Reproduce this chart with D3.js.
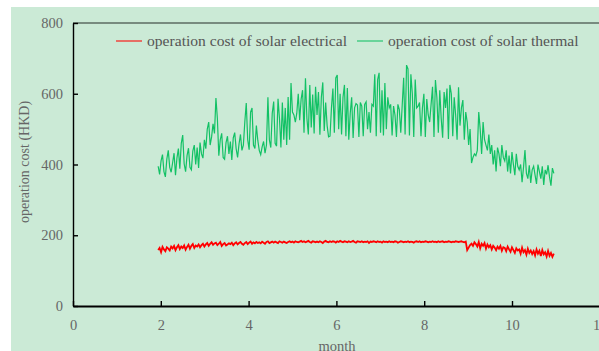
<!DOCTYPE html>
<html>
<head>
<meta charset="utf-8">
<script src="https://cdn.jsdelivr.net/npm/d3@7"></script>
<style>
  body { margin: 0; background: #fff; }
  svg { display: block; }
  text { font-family: "Liberation Serif", "Times New Roman", serif; }
</style>
</head>
<body>
<div id="chart"></div>
<script>
// Data: daily operation cost (HKD)
//= ================================
var startMonth = 1.94;
var daysPerMonth = 30.4;

var seriesNames = ["operation cost of solar electrical", "operation cost of solar thermal"];
var seriesColors = ["#ff0000", "#12c165"];

var electrical = [
  158, 164, 152, 167, 160, 155, 166, 162, 157, 168,
  163, 170, 158, 166, 172, 161, 168, 164, 171, 159,
  167, 173, 162, 170, 175, 164, 171, 168, 174, 166,
  172, 176, 168, 174, 178, 170, 176, 180, 173, 177,
  179, 172, 176, 181, 170, 175, 178, 171, 174, 177,
  175, 179, 172, 177, 180, 174, 178, 181, 176, 173,
  178, 181, 175, 179, 182, 176, 180, 177, 181, 178,
  180, 177, 182, 179, 176, 181, 183, 178, 180, 182,
  179, 182, 180, 178, 183, 181, 179, 182, 180, 178,
  181, 183, 180, 182, 179, 183, 181, 180, 182, 184,
  181, 183, 180, 182, 184, 181, 179, 183, 182, 180,
  182, 180, 183, 181, 178, 182, 184, 181, 180, 183,
  181, 183, 182, 179, 183, 181, 184, 182, 180, 183,
  182, 180, 183, 181, 182, 184, 181, 179, 183, 182,
  181, 183, 180, 182, 181, 183, 178, 182, 181, 183,
  182, 180, 183, 181, 182, 179, 183, 181, 182, 180,
  183, 181, 182, 180, 183, 182, 179, 181, 183, 182,
  180, 182, 181, 183, 180, 182, 181, 179, 182, 183,
  181, 183, 180, 182, 181, 183, 182, 180, 182, 181,
  183, 181, 182, 180, 183, 181, 182, 183, 180, 182,
  181, 183, 182, 180, 182, 181, 183, 182, 181, 182,
  183, 181, 180, 182, 158, 165, 172, 176, 170, 180,
  175, 168, 181, 163, 176, 170, 178, 162, 174, 166,
  172, 160, 170, 165, 158, 168, 162, 170, 156, 166,
  164, 155, 168, 160, 153, 166, 158, 150, 163, 157,
  160, 148, 165, 152, 158, 145, 162, 150, 157, 147,
  155, 143, 160, 148, 156, 141, 158, 146, 152, 140,
  156, 142, 150, 139, 148
];

var thermal = [
  395, 372, 410, 428, 380, 365, 415, 440, 392, 378,
  405, 432, 370, 418, 445, 388, 460, 483, 402, 380,
  425, 446, 392, 385, 438, 455, 400, 448, 390, 462,
  430, 418, 470, 445, 500, 520, 455, 478, 515, 488,
  588, 530, 425, 470, 488, 420, 415, 462, 480, 430,
  465, 413, 475, 490, 445, 420, 458, 485, 440, 455,
  520, 574, 470, 442, 548, 560, 455, 445, 510, 468,
  440, 428, 450, 465, 432, 455, 590, 470, 448, 545,
  578, 460, 452, 586, 530, 448, 575, 470, 560, 455,
  591, 470, 630, 548, 540, 520, 545, 600, 525, 585,
  610, 490, 644, 530, 485, 625, 505, 598, 488, 620,
  540, 605, 484, 590, 632, 495, 575, 510, 478, 480,
  560, 615, 490, 645, 653, 500, 600, 485, 590, 625,
  480, 616, 470, 545, 590, 475, 560, 572, 568, 478,
  575, 565, 480, 570, 577, 500, 548, 490, 570, 565,
  655, 480, 640, 659, 490, 610, 482, 630, 500, 590,
  560, 570, 482, 565, 540, 478, 570, 555, 490, 568,
  645, 485, 681, 670, 482, 655, 600, 478, 640, 560,
  565, 575, 480, 560, 600, 478, 585, 540, 520, 570,
  620, 478, 639, 590, 490, 610, 530, 476, 605, 560,
  615, 472, 625, 600, 480, 590, 540, 470, 618, 510,
  560, 582, 470, 548, 520, 455, 500, 404, 420, 430,
  425, 440, 548, 500, 430, 520, 470, 455, 440, 485,
  430, 455, 400, 440, 380, 448, 430, 395, 455, 420,
  410, 440, 380, 425, 375, 435, 400, 370, 430, 395,
  385, 400, 350, 392, 441, 375, 360, 398, 348, 385,
  395, 370, 345, 400, 380, 360, 395, 342, 385, 372,
  398, 365, 340, 390, 375
];

var xTicks = [0, 2, 4, 6, 8, 10, 12];
var yTicks = [0, 200, 400, 600, 800];

// Set up the chart
//= ================================
var svgWidth = 599;
var svgHeight = 351;

var margin = { top: 23, left: 73 };
var plotRight = 599.8;
var plotBottom = 306;

var svg = d3.select("#chart")
  .append("svg")
  .attr("width", svgWidth)
  .attr("height", svgHeight);

// panel background
svg.append("rect")
  .attr("x", 11)
  .attr("y", 7)
  .attr("width", svgWidth - 11)
  .attr("height", svgHeight - 7)
  .attr("fill", "#cbead6");

// Scales
var xScale = d3.scaleLinear().domain([0, 12]).range([margin.left, plotRight]);
var yScale = d3.scaleLinear().domain([0, 800]).range([plotBottom, margin.top]);

// top frame line
svg.append("line")
  .attr("x1", margin.left)
  .attr("x2", svgWidth)
  .attr("y1", margin.top)
  .attr("y2", margin.top)
  .attr("stroke", "#5d6b62")
  .attr("stroke-width", 1.5);

// Lines
var line = d3.line()
  .x((d, i) => xScale(startMonth + i / daysPerMonth))
  .y(d => yScale(d));

svg.append("path")
  .datum(thermal)
  .attr("fill", "none")
  .attr("stroke", seriesColors[1])
  .attr("stroke-width", 1.2)
  .attr("d", line);

svg.append("path")
  .datum(electrical)
  .attr("fill", "none")
  .attr("stroke", seriesColors[0])
  .attr("stroke-width", 1.8)
  .attr("d", line);

// Axes
var bottomAxis = d3.axisBottom(xScale)
  .tickValues(xTicks)
  .tickSize(-5)
  .tickSizeOuter(0)
  .tickPadding(14);

var leftAxis = d3.axisLeft(yScale)
  .tickValues(yTicks)
  .tickSize(-5)
  .tickSizeOuter(0)
  .tickPadding(10);

var xAxisG = svg.append("g")
  .attr("transform", `translate(0, ${plotBottom})`)
  .call(bottomAxis);

var yAxisG = svg.append("g")
  .attr("transform", `translate(${margin.left}, 0)`)
  .call(leftAxis);

xAxisG.select(".domain").attr("stroke", "#000").attr("stroke-width", 2);
yAxisG.select(".domain").attr("stroke", "#000").attr("stroke-width", 1.4);
[xAxisG, yAxisG].forEach(function(g) {
  g.selectAll(".tick line").attr("stroke", "#000").attr("stroke-width", 1.4);
  g.selectAll(".tick text")
    .attr("fill", "#666")
    .style("font-size", "14.5px")
    .style("font-family", "'Liberation Serif', serif");
});

// Axis labels
svg.append("text")
  .attr("x", 337)
  .attr("y", 351)
  .attr("text-anchor", "middle")
  .attr("fill", "#666")
  .style("font-size", "14.5px")
  .text("month");

svg.append("text")
  .attr("transform", "translate(29, 162) rotate(-90)")
  .attr("text-anchor", "middle")
  .attr("fill", "#666")
  .style("font-size", "14px")
  .text("operation cost (HKD)");

// Legend
var legendItems = [
  { name: seriesNames[0], color: seriesColors[0], x: 116 },
  { name: seriesNames[1], color: seriesColors[1], x: 357 }
];

legendItems.forEach(function(item) {
  svg.append("line")
    .attr("x1", item.x)
    .attr("x2", item.x + 26)
    .attr("y1", 41)
    .attr("y2", 41)
    .attr("stroke", item.color)
    .attr("stroke-opacity", 0.7)
    .attr("stroke-width", 1.5);
  svg.append("text")
    .attr("x", item.x + 31)
    .attr("y", 46)
    .attr("fill", "#555")
    .style("font-size", "15.6px")
    .text(item.name);
});
</script>
</body>
</html>
